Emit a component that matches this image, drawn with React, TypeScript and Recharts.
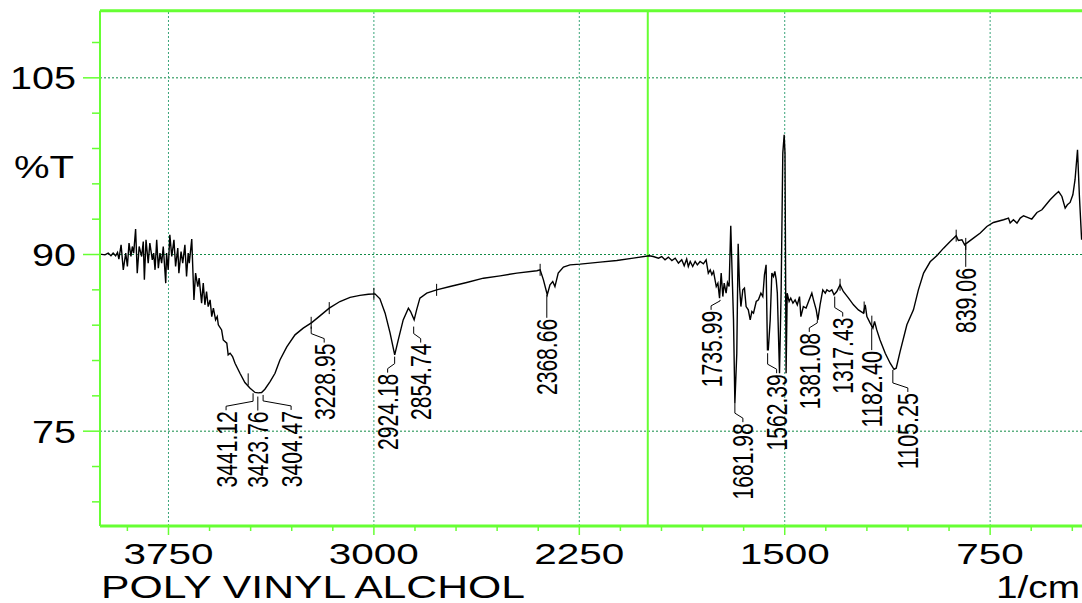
import React from "react";
import { ComposedChart, Line, Scatter, XAxis, YAxis, ReferenceLine } from "recharts";

// FTIR spectrum of poly vinyl alcohol, [wavenumber 1/cm, %T]
const hydroxylRegion: [number, number][] = [
  [4000, 90.03], [3982, 89.97], [3970, 90.12], [3960, 89.89], [3952, 90.12], [3943, 89.89],
  [3936, 90.17], [3931, 89.61], [3923, 90.82], [3915, 88.7], [3906, 90.12], [3900, 88.98],
  [3894, 90.97], [3887, 89.83], [3882, 90.68], [3877, 90.12], [3870, 92.16], [3864, 88.42],
  [3857, 90.68], [3848, 89.83], [3842, 91.1], [3838, 87.85], [3832, 91.25], [3824, 89.27],
  [3818, 90.97], [3809, 89.55], [3804, 90.12], [3799, 88.7], [3793, 91.25], [3787, 88.84],
  [3781, 90.12], [3775, 89.27], [3769, 90.68], [3760, 87.57], [3757, 90.12], [3751, 88.7],
  [3745, 91.67], [3738, 89.83], [3730, 91.25], [3724, 88.98], [3716, 90.54], [3712, 88.42],
  [3704, 90.25], [3698, 89.27], [3690, 90.82], [3684, 88.13], [3678, 90.12], [3674, 89.27],
  [3665, 91.31], [3657, 86.15], [3651, 88.42], [3643, 87.28], [3638, 87.99], [3629, 85.87],
  [3623, 87.57], [3617, 85.73], [3611, 86.86], [3605, 85.58], [3598, 86.15], [3592, 84.73],
  [3586, 85.45], [3578, 84.45], [3572, 84.73], [3568, 84.03], [3556, 83.6], [3550, 82.75],
  [3537, 82.47], [3532, 81.48], [3525, 81.62], [3516, 81.33], [3507, 80.77], [3489, 79.92],
  [3471, 79.13], [3452, 78.65], [3434, 78.29], [3422, 78.25], [3410, 78.28], [3398, 78.56],
  [3379, 79.21], [3361, 79.92], [3343, 81.05], [3318, 82.16], [3288, 83.18], [3258, 83.75],
  [3227, 84.22], [3197, 84.79], [3163, 85.45], [3124, 86.01], [3087, 86.36], [3051, 86.53],
  [3020, 86.62], [2996, 86.66], [2978, 86.24], [2959, 85.02], [2941, 83.35], [2924, 81.48],
  [2911, 82.75], [2893, 84.45], [2874, 85.45], [2866, 85.16], [2853, 84.45], [2844, 85.3],
  [2832, 86.3], [2807, 86.72], [2771, 87.0], [2722, 87.28], [2661, 87.62], [2600, 87.99],
  [2539, 88.19], [2478, 88.42], [2405, 88.62], [2393, 88.7], [2381, 87.85], [2367, 86.58],
  [2357, 87.43], [2347, 87.71], [2339, 87.28], [2327, 88.42], [2308, 88.93], [2284, 89.12],
  [2247, 89.18], [2174, 89.35], [2113, 89.49], [2053, 89.69],
];

const carbonylRegion: [number, number][] = [
  [1995, 89.89], [1980, 89.83], [1961, 89.69], [1949, 89.83], [1937, 89.55], [1925, 89.78],
  [1912, 89.49], [1900, 89.69], [1888, 89.27], [1876, 89.55], [1867, 89.04], [1858, 89.61],
  [1852, 88.98], [1845, 89.41], [1836, 88.98], [1827, 89.41], [1819, 89.12], [1809, 89.41],
  [1797, 89.21], [1787, 89.55], [1779, 88.42], [1772, 88.7], [1766, 88.28], [1760, 88.56],
  [1750, 87.28], [1744, 87.57], [1738, 86.3], [1732, 88.42], [1726, 86.43], [1721, 87.57],
  [1714, 86.72], [1709, 87.62], [1703, 87.28], [1697, 92.44], [1691, 87.57], [1687, 84.45],
  [1682, 77.38], [1675, 81.62], [1670, 90.91], [1665, 87.28], [1660, 85.58], [1653, 87.0],
  [1647, 87.15], [1641, 85.58], [1633, 85.3], [1626, 84.45], [1620, 85.16], [1614, 85.02],
  [1604, 86.01], [1596, 86.15], [1587, 86.72], [1580, 86.43], [1574, 88.28], [1568, 89.12],
  [1563, 81.9], [1560, 81.9], [1553, 84.45], [1547, 88.42], [1541, 88.13], [1536, 88.56],
  [1531, 87.85], [1527, 86.72], [1519, 79.92], [1513, 87.0], [1507, 98.61], [1502, 100.17],
  [1499, 98.61], [1495, 79.92], [1491, 86.72], [1484, 86.01], [1478, 86.3], [1470, 85.87],
  [1462, 86.15], [1454, 85.73], [1446, 86.43], [1441, 84.73], [1432, 85.58], [1422, 85.45],
  [1413, 86.01], [1401, 86.72], [1395, 86.15], [1385, 85.3], [1379, 84.45], [1371, 85.73],
  [1361, 87.0], [1352, 86.72], [1346, 87.0], [1337, 86.86], [1328, 87.0], [1320, 86.58],
  [1310, 86.86], [1298, 87.43], [1286, 86.86], [1267, 86.3], [1249, 85.73], [1231, 85.3],
  [1213, 85.02], [1206, 85.73], [1200, 84.73], [1188, 84.17], [1178, 83.75], [1172, 84.31],
  [1164, 83.6], [1152, 82.75], [1133, 81.62], [1115, 80.77], [1101, 80.25], [1093, 80.35],
  [1079, 81.73], [1054, 84.03], [1030, 85.3], [1012, 87.0],
];

const lowRegion: [number, number][] = [
  [993, 88.42], [969, 89.38], [945, 89.89], [920, 90.54], [896, 91.1], [874, 91.59],
  [866, 91.19], [853, 91.25], [843, 90.82], [839, 90.9], [811, 91.39], [786, 91.82],
  [762, 92.38], [738, 92.72], [701, 92.95], [683, 93.09], [677, 92.67], [665, 92.95],
  [652, 92.67], [640, 93.09], [628, 93.29], [616, 93.18], [598, 93.01], [579, 93.57],
  [561, 93.8], [549, 94.14], [531, 94.65], [513, 95.07], [500, 95.35], [488, 94.93],
  [476, 93.94], [468, 94.22], [458, 94.42], [448, 95.07], [440, 96.35], [431, 98.9],
  [424, 94.93], [416, 91.25],
];

// labelled peaks: wavenumber and %T at the tip of the leader
const peakWavenumbers = [
  3441.12, 3423.76, 3404.47, 3228.95, 2924.18, 2854.74, 2368.66, 1735.99,
  1681.98, 1562.39, 1381.08, 1317.43, 1182.4, 1105.25, 839.06,
];
const peakTips = [
  78.22, 77.94, 78.08, 83.88, 81.33, 83.88, 86.58, 86.15,
  77.38, 81.62, 84.45, 86.43, 83.75, 80.2, 90.82,
];
// leader nudges in px (label offset sideways, distance below the tip)
const leaderDx = [-27, 0, 28, 13, -7, 7, 0, -9, 8, 9, -8, 8, 0, 15, 0];
const leaderDrop = [17, 14, 15, 16, 16, 16, 23, 10, 19, 20, 12, 20, 22, 22, 22];

// small unlabelled peak marks on the trace
const markWavenumbers = [3459, 3229, 3163, 3000, 2771, 2393, 1298, 1210, 1182, 874, 839];
const markTs = [79.4, 84.2, 85.45, 86.66, 87.0, 88.7, 87.43, 85.5, 84.3, 91.6, 90.9];

const xMajorTicks = [3750, 3000, 2250, 1500, 750];
const xMinorTicks = [3900, 3600, 3450, 3300, 3150, 2850, 2700, 2550, 2400, 2100, 1950, 1800, 1650, 1350, 1200, 1050, 900, 600, 450];
const yMajorTicks = [75, 90, 105];
const yMinorTicks = [69, 72, 78, 81, 84, 87, 93, 96, 99, 102, 108];
const yTitleAt = 97.4;

const GREEN = "#66ff33";
const FONT = "'Liberation Sans', Arial, Helvetica, sans-serif";

const spectrum = [...hydroxylRegion, ...carbonylRegion, ...lowRegion].map(([wn, t]) => ({ wn, t }));
const peaks = peakWavenumbers.map((wn, i) => ({
  wn,
  t: peakTips[i],
  dx: leaderDx[i],
  drop: leaderDrop[i],
}));
const marks = markWavenumbers.map((wn, i) => ({ wn, t: markTs[i] }));

// eslint-disable-next-line @typescript-eslint/no-explicit-any
function XTick({ x, y, payload }: any) {
  const major = xMajorTicks.includes(payload.value);
  const text = String(payload.value);
  return (
    <g>
      <line x1={x} x2={x} y1={y} y2={y + (major ? 9 : 5)} stroke={GREEN} strokeWidth={1.5} />
      {major && (
        <text
          x={x}
          y={y + 38}
          textAnchor="middle"
          fontSize={29.5}
          fontFamily={FONT}
          fill="#000"
          textLength={text.length * 22.5}
          lengthAdjust="spacingAndGlyphs"
        >
          {text}
        </text>
      )}
    </g>
  );
}

// eslint-disable-next-line @typescript-eslint/no-explicit-any
function YTick({ x, y, payload }: any) {
  const v = payload.value;
  if (v === yTitleAt) {
    return (
      <text x={x - 26} y={y + 11} textAnchor="end" fontSize={31} fontFamily={FONT} fill="#000"
        textLength={60} lengthAdjust="spacingAndGlyphs">
        %T
      </text>
    );
  }
  const major = yMajorTicks.includes(v);
  const text = String(v);
  return (
    <g>
      <line x1={x - (major ? 17 : 8)} x2={x} y1={y} y2={y} stroke={GREEN} strokeWidth={1.5} />
      {major && (
        <text x={x - 24} y={y + 11.5} textAnchor="end" fontSize={31} fontFamily={FONT} fill="#000"
          textLength={text.length * 22} lengthAdjust="spacingAndGlyphs">
          {text}
        </text>
      )}
    </g>
  );
}

// eslint-disable-next-line @typescript-eslint/no-explicit-any
function PeakLabel({ cx, cy, payload }: any) {
  if (cx == null || cy == null) return null;
  const { dx, drop, wn } = payload;
  const lx = cx + dx;
  const top = cy + drop;
  const pts =
    dx === 0
      ? `${cx},${cy} ${cx},${top}`
      : `${cx},${cy} ${cx},${top - 9} ${lx},${top - 4} ${lx},${top}`;
  const label = wn.toFixed(2);
  const tx = lx + 10.5;
  const ty = top + 1;
  return (
    <g>
      <polyline points={pts} fill="none" stroke="#000" strokeWidth={1} />
      <text
        transform={`rotate(-90 ${tx} ${ty})`}
        x={tx}
        y={ty}
        textAnchor="end"
        fontSize={30}
        fontFamily={FONT}
        fill="#000"
        textLength={label.length * 10.9}
        lengthAdjust="spacingAndGlyphs"
      >
        {label}
      </text>
    </g>
  );
}

// eslint-disable-next-line @typescript-eslint/no-explicit-any
function PeakMark({ cx, cy }: any) {
  if (cx == null || cy == null) return null;
  return <line x1={cx} x2={cx} y1={cy - 6} y2={cy + 6} stroke="#000" strokeWidth={1} />;
}

// eslint-disable-next-line @typescript-eslint/no-explicit-any
function BottomTitles({ viewBox }: any) {
  const { x, y } = viewBox;
  return (
    <g fontFamily={FONT} fill="#000">
      <text x={x + 1} y={y + 71.5} fontSize={31.5} textLength={424} lengthAdjust="spacingAndGlyphs">
        POLY VINYL ALCHOL
      </text>
      <text x={996} y={y + 71.5} fontSize={31.5} textLength={84} lengthAdjust="spacingAndGlyphs">
        1/cm
      </text>
    </g>
  );
}

export default function App() {
  return (
    <div
      style={{
        position: "fixed",
        left: 0,
        top: 0,
        width: 1082,
        height: 603,
        overflow: "hidden",
        background: "#fff",
      }}
    >
      <ComposedChart
        width={1100}
        height={603}
        data={spectrum}
        margin={{ top: 10.7, right: 14, bottom: 0, left: 0 }}
      >
        <XAxis
          dataKey="wn"
          type="number"
          domain={[400, 4000]}
          reversed
          ticks={[...xMajorTicks, ...xMinorTicks]}
          interval={0}
          tickSize={0}
          tickMargin={0}
          tickLine={false}
          tick={<XTick />}
          axisLine={{ stroke: GREEN, strokeWidth: 3 }}
          height={77}
          allowDataOverflow
          label={{ content: <BottomTitles /> }}
        />
        <YAxis
          dataKey="t"
          type="number"
          domain={[66.95, 110.7]}
          ticks={[...yMajorTicks, ...yMinorTicks, yTitleAt]}
          interval={0}
          tickSize={0}
          tickMargin={0}
          tickLine={false}
          tick={<YTick />}
          axisLine={{ stroke: GREEN, strokeWidth: 2 }}
          width={100}
          allowDataOverflow
        />

        {/* dotted grid at the labelled values */}
        {yMajorTicks.map((v) => (
          <ReferenceLine key={`h${v}`} y={v} stroke="#0f8a45" strokeDasharray="2 2" strokeWidth={1} />
        ))}
        {xMajorTicks.map((v) => (
          <ReferenceLine key={`v${v}`} x={v} stroke="#3aa57a" strokeDasharray="2 2" strokeWidth={1} />
        ))}
        {/* scale change marker and top frame */}
        <ReferenceLine x={2000} stroke={GREEN} strokeWidth={2} />
        <ReferenceLine y={110.7} stroke={GREEN} strokeWidth={3} />

        <Line
          type="linear"
          dataKey="t"
          stroke="#000"
          strokeWidth={1.4}
          dot={false}
          activeDot={false}
          isAnimationActive={false}
        />
        <Scatter data={marks} dataKey="t" shape={<PeakMark />} isAnimationActive={false} />
        <Scatter data={peaks} dataKey="t" shape={<PeakLabel />} isAnimationActive={false} />
      </ComposedChart>
    </div>
  );
}
